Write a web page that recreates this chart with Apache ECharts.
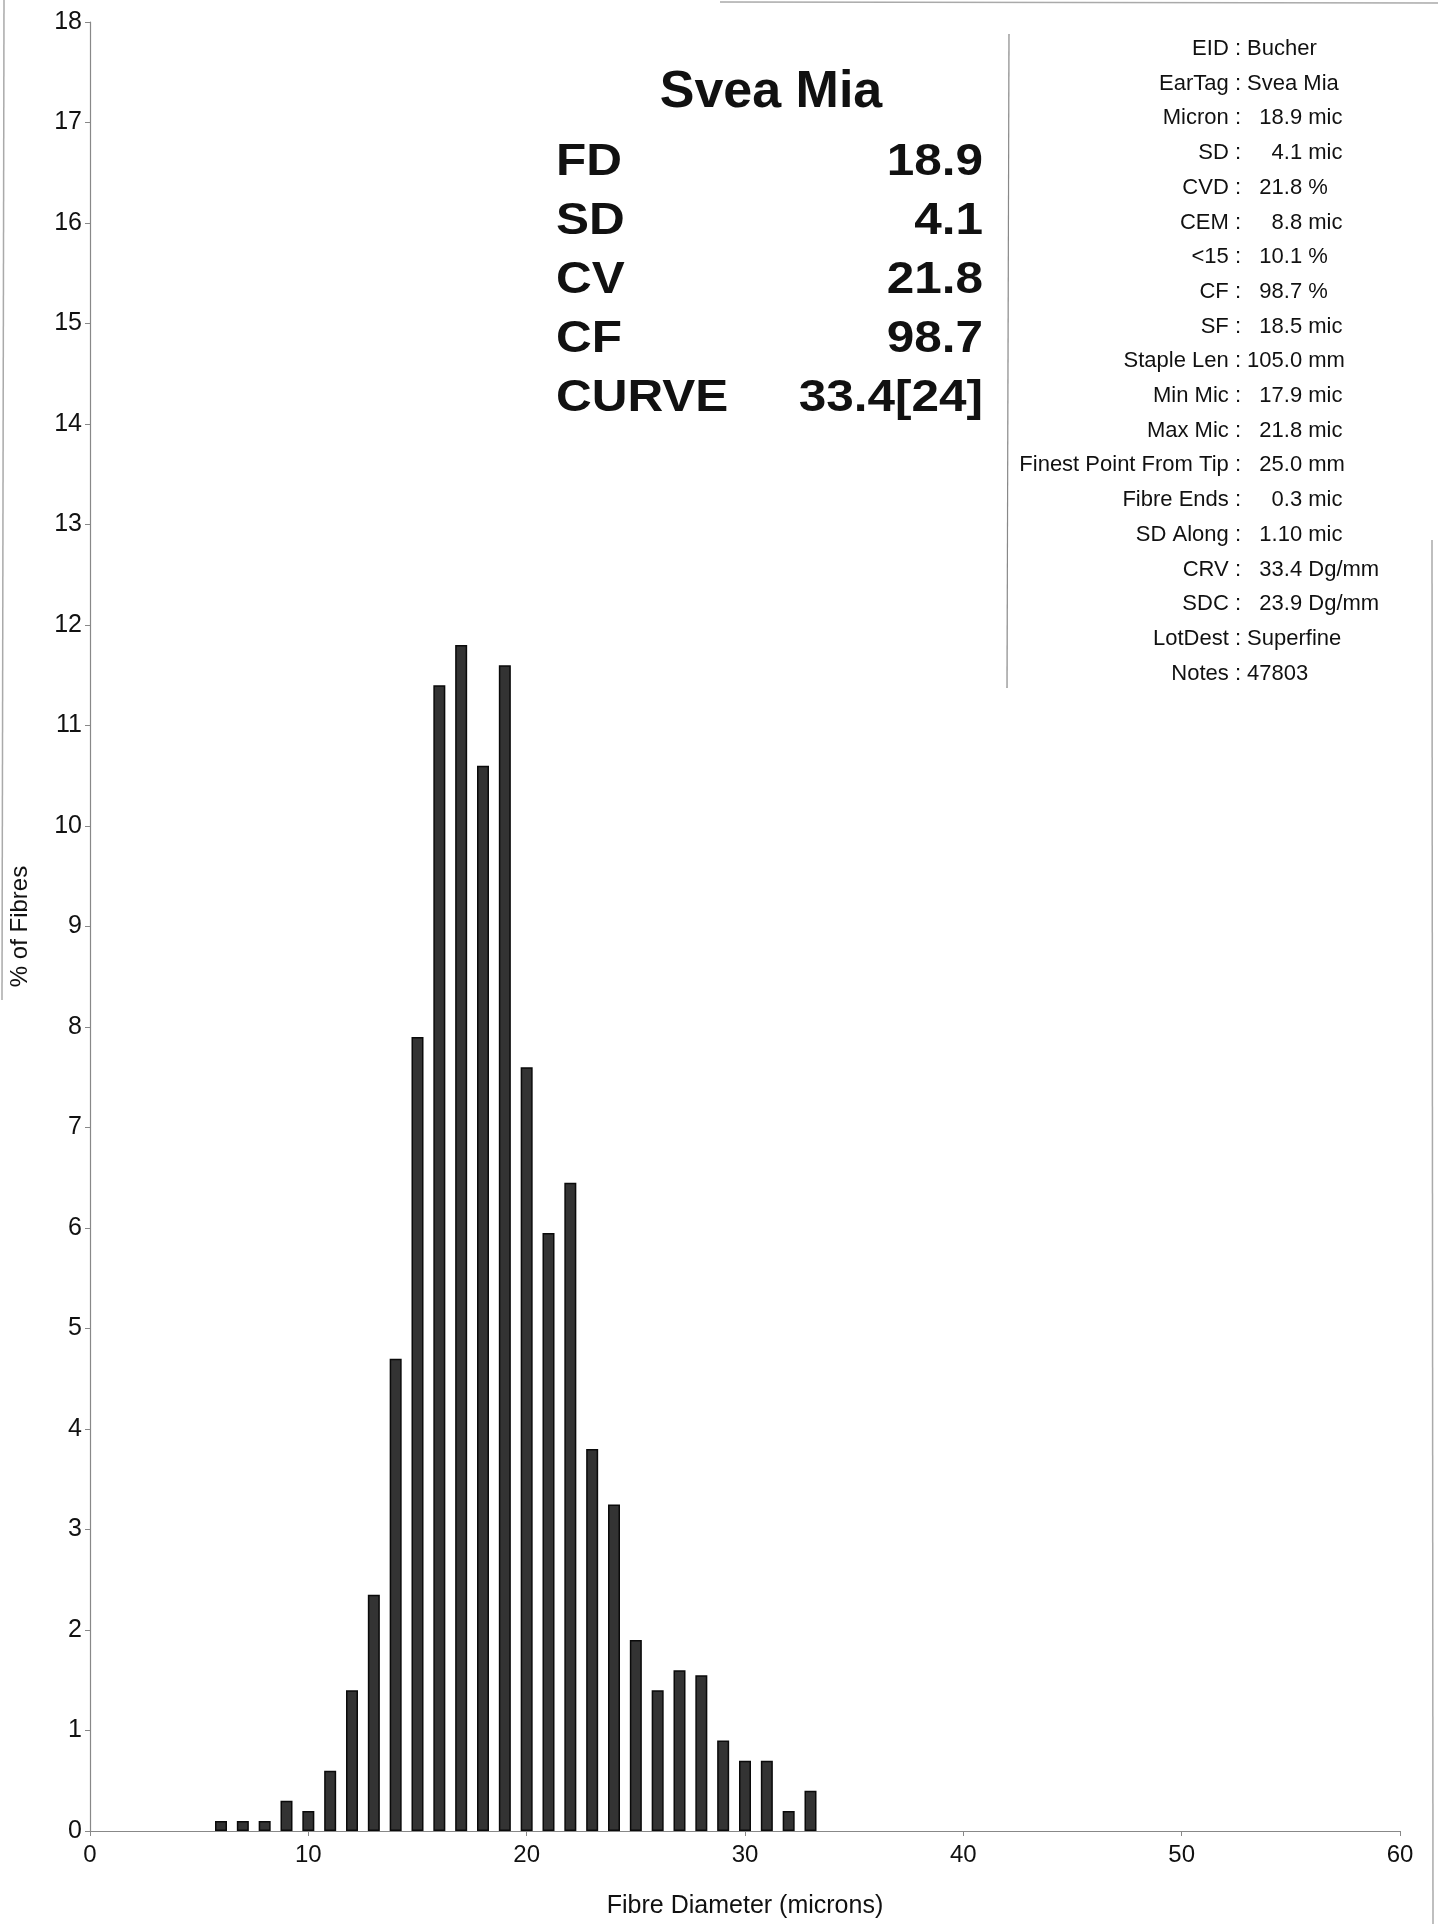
<!DOCTYPE html>
<html>
<head>
<meta charset="utf-8">
<script src="https://cdn.jsdelivr.net/npm/echarts@6/dist/echarts.min.js"></script>
<style>
html,body{margin:0;padding:0;background:#fff;}
#chart{width:1438px;height:1924px;}
</style>
</head>
<body>
<div id="chart"></div>
<script>
// ---- data ----
const diameters = [6,7,8,9,10,11,12,13,14,15,16,17,18,19,20,21,22,23,24,25,26,27,28,29,30,31,32,33];
const percentFibres = [0.1,0.1,0.1,0.3,0.2,0.6,1.4,2.35,4.7,7.9,11.4,11.8,10.6,11.6,7.6,5.95,6.45,3.8,3.25,1.9,1.4,1.6,1.55,0.9,0.7,0.7,0.2,0.4];
const xMin = 0, xMax = 60, xStep = 10;
const yMin = 0, yMax = 18, yStep = 1;
const xAxisTitle = 'Fibre Diameter (microns)';
const yAxisTitle = '% of Fibres';
const sampleName = 'Svea Mia';
const summaryLabels = ['FD','SD','CV','CF','CURVE'];
const summaryValues = ['18.9','4.1','21.8','98.7','33.4[24]'];
const infoLabels = ['EID','EarTag','Micron','SD','CVD','CEM','<15','CF','SF','Staple Len','Min Mic','Max Mic','Finest Point From Tip','Fibre Ends','SD Along','CRV','SDC','LotDest','Notes'];
const infoNumbers = ['','','18.9','4.1','21.8','8.8','10.1','98.7','18.5','105.0','17.9','21.8','25.0','0.3','1.10','33.4','23.9','',''];
const infoUnits = ['Bucher','Svea Mia','mic','mic','%','mic','%','%','mic','mm','mic','mic','mm','mic','mic','Dg/mm','Dg/mm','Superfine','47803'];

// ---- build ----
const FONT = 'Liberation Sans, Arial, Helvetica, sans-serif';
const chart = echarts.init(document.getElementById('chart'), null, {renderer:'canvas'});

const graphics = [];
// title
graphics.push({type:'text', x:771, y:93, style:{text:sampleName, fontSize:52, fontWeight:'bold', fontFamily:FONT, fill:'#111', textAlign:'center', textVerticalAlign:'middle', align:'center', verticalAlign:'middle'}});
const rowY0 = 163, rowDy = 58.9;
summaryLabels.forEach((lab,i)=>{
  graphics.push({type:'text', x:556, y:rowY0+i*rowDy, scaleX:1.1, style:{text:lab, fontSize:45, fontWeight:'bold', fontFamily:FONT, fill:'#111', textAlign:'left', textVerticalAlign:'middle', align:'left', verticalAlign:'middle'}});
  graphics.push({type:'text', x:983, y:rowY0+i*rowDy, scaleX:1.1, style:{text:summaryValues[i], fontSize:45, fontWeight:'bold', fontFamily:FONT, fill:'#111', textAlign:'right', textVerticalAlign:'middle', align:'right', verticalAlign:'middle'}});
});
// separator
graphics.push({type:'line', shape:{x1:1009, y1:34, x2:1007, y2:688}, style:{stroke:'#888', lineWidth:1.2}});
// info panel
const infoY0 = 49, infoDy = 34.7;
infoLabels.forEach((lab,i)=>{
  const y = infoY0 + i*infoDy;
  graphics.push({type:'text', x:1241, y:y, style:{text:lab+' :', fontSize:22, fontFamily:FONT, fill:'#111', textAlign:'right', textVerticalAlign:'middle', align:'right', verticalAlign:'middle'}});
  let val;
  if (infoNumbers[i] !== '') {
    const pad = Math.max(0, 5 - infoNumbers[i].length);
    val = ' ' + '  '.repeat(pad) + infoNumbers[i] + ' ' + infoUnits[i];
  } else {
    val = ' ' + infoUnits[i];
  }
  graphics.push({type:'text', x:1241, y:y, style:{text:val, fontSize:22, fontFamily:FONT, fill:'#111', textAlign:'left', textVerticalAlign:'middle', align:'left', verticalAlign:'middle'}});
});
// paper edge lines of the scan
graphics.push({type:'line', shape:{x1:4, y1:0, x2:2, y2:1000}, style:{stroke:'#aaa', lineWidth:1.5}});
graphics.push({type:'line', shape:{x1:720, y1:2, x2:1438, y2:3}, style:{stroke:'#aaa', lineWidth:1.5}});
graphics.push({type:'line', shape:{x1:1432, y1:540, x2:1433, y2:1924}, style:{stroke:'#aaa', lineWidth:1.5}});

const option = {
  backgroundColor:'#fff',
  animation:false,
  grid:{left:84, right:38, top:22, bottom:92, containLabel:false},
  xAxis:{
    type:'value', min:xMin, max:xMax, interval:xStep,
    name:xAxisTitle, nameLocation:'middle', nameGap:63,
    nameTextStyle:{fontSize:25, fontFamily:FONT, color:'#111'},
    axisLine:{show:true, lineStyle:{color:'#888', width:1.2}},
    axisTick:{show:true, length:5, lineStyle:{color:'#888'}},
    axisLabel:{fontSize:24, fontFamily:FONT, color:'#111', margin:12},
    splitLine:{show:false}
  },
  yAxis:{
    type:'value', min:yMin, max:yMax, interval:yStep,
    name:yAxisTitle, nameLocation:'middle', nameGap:58, nameRotate:90,
    nameTextStyle:{fontSize:24, fontFamily:FONT, color:'#111'},
    axisLine:{show:true, lineStyle:{color:'#888', width:1.2}},
    axisTick:{show:true, length:5, lineStyle:{color:'#888'}},
    axisLabel:{fontSize:25, fontFamily:FONT, color:'#111', margin:8},
    splitLine:{show:false}
  },
  series:[{
    type:'bar',
    data: diameters.map((d,i)=>[d, percentFibres[i]]),
    barWidth:12,
    itemStyle:{color:'#333', borderColor:'#0a0a0a', borderWidth:1.5}
  }],
  graphic: graphics
};
chart.setOption(option);
</script>
</body>
</html>
